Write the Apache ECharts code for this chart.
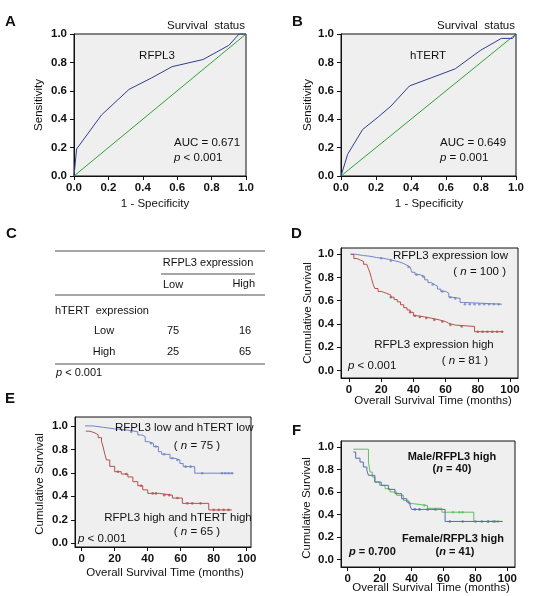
<!DOCTYPE html>
<html><head><meta charset="utf-8">
<script src="https://cdn.jsdelivr.net/npm/echarts@6/dist/echarts.min.js"></script>
<style>html,body{margin:0;padding:0;background:#fff}#c{width:550px;height:596px}</style>
</head><body><div id="c"></div>
<script>
// ---------- data ----------
const rocTicks = [0, 0.2, 0.4, 0.6, 0.8, 1.0];
const kmYTicks = [0, 0.2, 0.4, 0.6, 0.8, 1.0];
const kmXTicks = [0, 20, 40, 60, 80, 100];

const rocRfpl3 = [[0,0],[0.015,0.19],[0.16,0.43],[0.32,0.61],[0.45,0.69],[0.57,0.77],[0.75,0.82],[0.9,0.92],[0.96,1.0],[1,1]];
const rocHtert = [[0,0],[0.038,0.153],[0.124,0.328],[0.214,0.417],[0.286,0.493],[0.391,0.634],[0.519,0.693],[0.653,0.755],[0.796,0.884],[0.916,0.969],[0.98,0.969],[1,1]];
const rocRef = [[0,0],[1,1]];

// D: RFPL3 expression low / high
const dLowT  = [1, 4, 9, 13, 17, 21, 25, 28, 31, 34, 36, 38, 39, 41, 44, 47, 49, 51, 53, 55, 57, 60, 62, 64, 69, 71, 95];
const dLowS  = [1.0, 0.989, 0.983, 0.972, 0.966, 0.955, 0.945, 0.935, 0.92, 0.905, 0.89, 0.875, 0.845, 0.825, 0.808, 0.78, 0.756, 0.74, 0.725, 0.7, 0.68, 0.665, 0.63, 0.62, 0.585, 0.57, 0.57];
const dLowCens = [20, 26, 37, 42, 46, 52, 58, 63, 66, 72, 75, 78, 81, 84, 87, 90, 93];
const dHighT = [1, 3, 5, 7, 9, 11, 12, 13, 14, 15, 16, 18, 20, 23, 26, 28, 30, 32, 34, 36, 38, 40, 43, 47, 51, 56, 60, 62, 66, 78, 96];
const dHighS = [1.0, 0.963, 0.95, 0.938, 0.914, 0.9, 0.877, 0.84, 0.79, 0.74, 0.705, 0.68, 0.665, 0.648, 0.63, 0.61, 0.59, 0.565, 0.54, 0.52, 0.5, 0.47, 0.46, 0.45, 0.435, 0.42, 0.405, 0.39, 0.378, 0.333, 0.333];
const dHighCens = [26, 38, 41, 44, 48, 53, 58, 63, 70, 80, 83, 86, 89, 92, 95];

// E: RFPL3 low & hTERT low / RFPL3 high & hTERT high
const eLowT  = [2, 7, 13, 20, 27, 34, 36.5, 38.5, 40.5, 43.5, 46.5, 48.5, 53.5, 56.5, 59.5, 61.5, 68.5, 92];
const eLowS  = [1.0, 0.988, 0.975, 0.966, 0.95, 0.923, 0.909, 0.866, 0.852, 0.824, 0.78, 0.758, 0.724, 0.71, 0.68, 0.653, 0.597, 0.597];
const eLowCens = [30, 42, 45, 50, 55, 58, 63, 66, 73, 85, 87, 89, 91];
const eHighT = [2.5, 5, 8, 10, 12, 13, 14, 15, 17, 20, 24, 28, 31, 34, 37, 40, 47, 55, 61, 77, 91];
const eHighS = [0.955, 0.94, 0.925, 0.9, 0.87, 0.82, 0.76, 0.71, 0.655, 0.61, 0.59, 0.565, 0.525, 0.49, 0.455, 0.425, 0.41, 0.385, 0.34, 0.284, 0.284];
const eHighCens = [22, 27, 36, 43, 45, 50, 53, 58, 64, 67, 72, 80, 83, 86, 89];

// F: Male / Female within RFPL3 high
const fGreenT = [3.5, 13, 14, 15.4, 17, 20, 23.4, 26.5, 30.7, 34.9, 38, 41, 50, 59, 79, 97];
const fGreenS = [0.98, 0.866, 0.777, 0.733, 0.688, 0.659, 0.629, 0.6, 0.57, 0.525, 0.496, 0.48, 0.455, 0.42, 0.338, 0.338];
const fGreenCens = [48, 66, 70, 72, 88, 91, 94];
const fBlueT = [3.5, 5, 7.7, 9.8, 12, 13, 17, 21, 25.5, 29.6, 33.8, 37, 39, 40, 61, 97];
const fBlueS = [0.955, 0.9, 0.866, 0.822, 0.792, 0.748, 0.688, 0.659, 0.623, 0.585, 0.54, 0.51, 0.48, 0.445, 0.338, 0.338];
const fBlueCens = [42, 45, 50, 55, 64, 72, 80, 84, 88, 92];

// table C
const tabColHeader = 'RFPL3 expression';
const tabColLabels = ['Low', 'High'];
const tabRowHeader = 'hTERT  expression';
const tabRowLabels = ['Low', 'High'];
const tabValues = [[75, 16], [25, 65]];

// ---------- helpers ----------
const FF = '"Liberation Sans", Arial, Helvetica, sans-serif';
const pairs = (T, S) => T.map((t, i) => [t, S[i]]);
function survAt(T, S, t) { let v = S[0]; for (let i = 0; i < T.length; i++) { if (T[i] <= t) v = S[i]; } return v; }
const cens = (T, S, C) => C.map(t => [t, survAt(T, S, t)]);

const chart = echarts.init(document.getElementById('c'), null, { renderer: 'canvas' });

const gridStyle = { show: true, backgroundColor: '#efefef', borderColor: '#111', borderWidth: 1, containLabel: false };
const grids = [
  Object.assign({ left: 74, top: 34, width: 172, height: 142 }, gridStyle),
  Object.assign({ left: 341, top: 34, width: 175, height: 142 }, gridStyle),
  Object.assign({ left: 341, top: 248, width: 177, height: 130 }, gridStyle),
  Object.assign({ left: 75, top: 417, width: 176, height: 130 }, gridStyle),
  Object.assign({ left: 341, top: 441, width: 174, height: 126 }, gridStyle)
];

function axis(gi, min, max, ticks, fmt, isY) {
  return {
    type: 'value', gridIndex: gi, min: min, max: max,
    axisLine: { show: true, onZero: false, lineStyle: { color: '#111', width: 1 } },
    axisTick: { show: true, inside: false, length: 4, customValues: ticks, lineStyle: { color: '#111' } },
    axisLabel: { show: true, customValues: ticks, margin: isY ? 7 : 6, formatter: fmt,
      fontFamily: FF, fontSize: 11.5, fontWeight: 'bold', color: '#111' },
    splitLine: { show: false }
  };
}
const f1 = v => v.toFixed(1);
const f0 = v => String(Math.round(v));

const xAxes = [
  axis(0, 0, 1, rocTicks, f1, false),
  axis(1, 0, 1, rocTicks, f1, false),
  axis(2, -5, 105, kmXTicks, f0, false),
  axis(3, -4.06, 102.6, kmXTicks, f0, false),
  axis(4, -4.2, 104.8, kmXTicks, f0, false)
];
const yAxes = [
  axis(0, 0, 1, rocTicks, f1, true),
  axis(1, 0, 1, rocTicks, f1, true),
  axis(2, -0.066, 1.054, kmYTicks, f1, true),
  axis(3, -0.032, 1.076, kmYTicks, f1, true),
  axis(4, -0.067, 1.053, kmYTicks, f1, true)
];

const C_ROC = '#2f3f8f', C_REF = '#2ea03a', C_KB = '#7383c6', C_KR = '#b4514f', C_FG = '#5fbf5f', C_FB = '#5868ac';

function line(gi, data, color, step) {
  return { type: 'line', xAxisIndex: gi, yAxisIndex: gi, data: data, step: step || false,
    showSymbol: false, symbol: 'none', lineStyle: { color: color, width: 1 }, animation: false, silent: true };
}
function dots(gi, data, color) {
  return { type: 'scatter', xAxisIndex: gi, yAxisIndex: gi, data: data, symbol: 'circle', symbolSize: 2.6,
    itemStyle: { color: color }, animation: false, silent: true };
}

const series = [
  line(0, rocRef, C_REF), line(0, rocRfpl3, C_ROC),
  line(1, rocRef, C_REF), line(1, rocHtert, C_ROC),
  line(2, pairs(dLowT, dLowS), C_KB, 'end'), dots(2, cens(dLowT, dLowS, dLowCens), C_KB),
  line(2, pairs(dHighT, dHighS), C_KR, 'end'), dots(2, cens(dHighT, dHighS, dHighCens), C_KR),
  line(3, pairs(eLowT, eLowS), C_KB, 'end'), dots(3, cens(eLowT, eLowS, eLowCens), C_KB),
  line(3, pairs(eHighT, eHighS), C_KR, 'end'), dots(3, cens(eHighT, eHighS, eHighCens), C_KR),
  line(4, pairs(fGreenT, fGreenS), C_FG, 'end'), dots(4, cens(fGreenT, fGreenS, fGreenCens), C_FG),
  line(4, pairs(fBlueT, fBlueS), C_FB, 'end'), dots(4, cens(fBlueT, fBlueS, fBlueCens), C_FB)
];

// ---------- text ----------
const G = [];
function txt(x, y, s, size, align, weight, opts) {
  const st = { x: x, y: y, text: s, fill: '#111', textAlign: align || 'left', textVerticalAlign: 'middle',
    font: (weight || 'normal') + ' ' + size + 'px ' + FF };
  const el = { type: 'text', style: st, z: 100 };
  if (opts && opts.rich) {
    st.rich = {
      i: { fontStyle: 'italic', fontSize: size, fontFamily: FF, fontWeight: weight || 'normal', fill: '#111' },
      n: { fontSize: size, fontFamily: FF, fontWeight: weight || 'normal', fill: '#111' }
    };
  }
  if (opts && opts.rot) { el.rotation = Math.PI / 2; el.x = x; el.y = y; st.x = 0; st.y = 0; }
  G.push(el);
}
// panel letters
txt(5, 22, 'A', 15, 'left', 'bold');
txt(292, 22, 'B', 15, 'left', 'bold');
txt(6, 234, 'C', 15, 'left', 'bold');
txt(291, 234, 'D', 15, 'left', 'bold');
txt(5, 399, 'E', 15, 'left', 'bold');
txt(292, 431, 'F', 15, 'left', 'bold');

// A
txt(245, 26, 'Survival  status', 11.5, 'right');
txt(157, 56, 'RFPL3', 11.5, 'center');
txt(174, 143, 'AUC = 0.671', 11.5, 'left');
txt(174, 158, '{i|p}{n| < 0.001}', 11.5, 'left', 'normal', { rich: true });
txt(39, 105, 'Sensitivity', 11.5, 'center', 'normal', { rot: true });
txt(155, 204, '1 - Specificity', 11.5, 'center');
// B
txt(515, 26, 'Survival  status', 11.5, 'right');
txt(428, 56, 'hTERT', 11.5, 'center');
txt(440, 143, 'AUC = 0.649', 11.5, 'left');
txt(440, 158, '{i|p}{n| = 0.001}', 11.5, 'left', 'normal', { rich: true });
txt(308, 105, 'Sensitivity', 11.5, 'center', 'normal', { rot: true });
txt(429, 204, '1 - Specificity', 11.5, 'center');

// C table
const lineEl = (x1, y1, x2, y2) => G.push({ type: 'line', shape: { x1: x1, y1: y1, x2: x2, y2: y2 }, style: { stroke: '#888', lineWidth: 1.3 }, z: 100 });
lineEl(55, 251, 265, 251);
lineEl(161, 274, 255, 274);
lineEl(55, 295, 265, 295);
lineEl(55, 364, 265, 364);
txt(208, 263, tabColHeader, 11, 'center');
txt(173, 285, tabColLabels[0], 11, 'center');
txt(255, 284, tabColLabels[1], 11, 'right');
txt(55, 311, tabRowHeader, 11, 'left');
const rowY = [331, 352];
tabRowLabels.forEach((r, i) => {
  txt(104, rowY[i], r, 11, 'center');
  txt(173, rowY[i], String(tabValues[i][0]), 11, 'center');
  txt(245, rowY[i], String(tabValues[i][1]), 11, 'center');
});
txt(56, 373, '{i|p}{n| < 0.001}', 11, 'left', 'normal', { rich: true });

// D
txt(508, 256, 'RFPL3 expression low', 11.5, 'right');
txt(506, 272, '{n|( }{i|n}{n| = 100 )}', 11.5, 'right', 'normal', { rich: true });
txt(434, 345, 'RFPL3 expression high', 11.5, 'center');
txt(465, 361, '{n|( }{i|n}{n| = 81 )}', 11.5, 'center', 'normal', { rich: true });
txt(348, 366, '{i|p}{n| < 0.001}', 11.5, 'left', 'normal', { rich: true });
txt(308, 313, 'Cumulative Survival', 11.5, 'center', 'normal', { rot: true });
txt(433, 401, 'Overall Survival Time (months)', 11.5, 'center');

// E
txt(115, 428, 'RFPL3 low and hTERT low', 11.5, 'left');
txt(197, 446, '{n|( }{i|n}{n| = 75 )}', 11.5, 'center', 'normal', { rich: true });
txt(178, 518, 'RFPL3 high and hTERT high', 11.5, 'center');
txt(197, 532, '{n|( }{i|n}{n| = 65 )}', 11.5, 'center', 'normal', { rich: true });
txt(78, 539, '{i|p}{n| < 0.001}', 11.5, 'left', 'normal', { rich: true });
txt(40, 484, 'Cumulative Survival', 11.5, 'center', 'normal', { rot: true });
txt(165, 573, 'Overall Survival Time (months)', 11.5, 'center');

// F
txt(452, 457, 'Male/RFPL3 high', 11, 'center', 'bold');
txt(452, 469, '{n|(}{i|n}{n| = 40)}', 11, 'center', 'bold', { rich: true });
txt(453, 539, 'Female/RFPL3 high', 11, 'center', 'bold');
txt(455, 552, '{n|(}{i|n}{n| = 41)}', 11, 'center', 'bold', { rich: true });
txt(349, 552, '{i|p}{n| = 0.700}', 11, 'left', 'bold', { rich: true });
txt(307, 508, 'Cumulative Survival', 11.5, 'center', 'normal', { rot: true });
txt(431, 588, 'Overall Survival Time (months)', 11.5, 'center');

chart.setOption({
  animation: false,
  backgroundColor: '#ffffff',
  grid: grids,
  xAxis: xAxes,
  yAxis: yAxes,
  series: series,
  graphic: { elements: G }
});
</script>
</body></html>
